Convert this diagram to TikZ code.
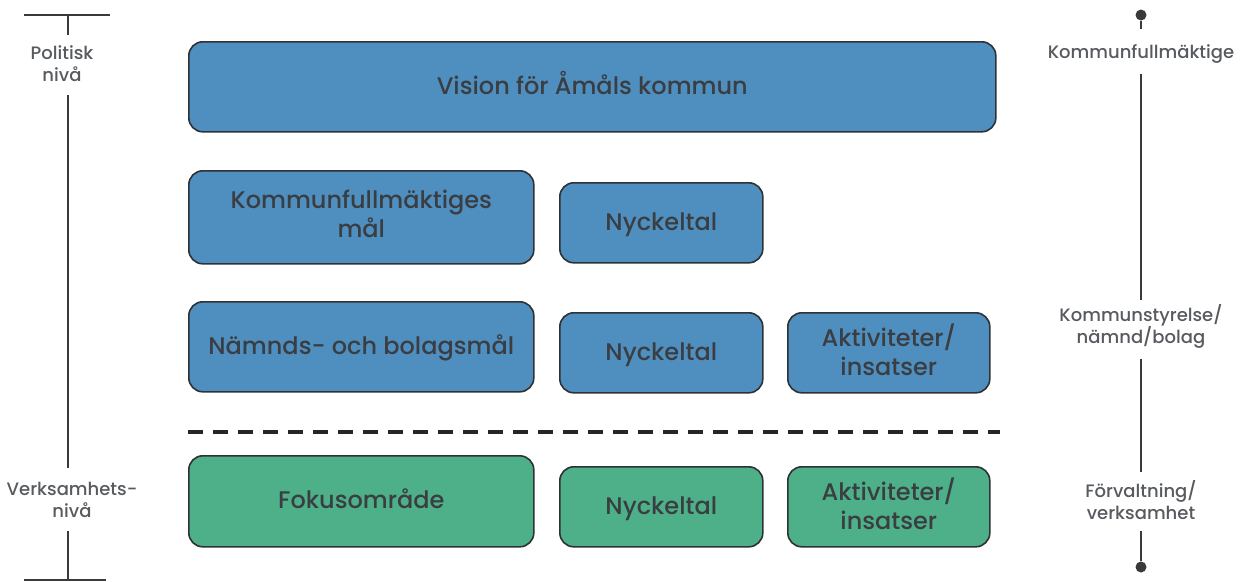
\documentclass[tikz,border=0pt]{standalone}
\usepackage{fontspec}
\setmainfont{Poppins}[UprightFont={* Medium}]
\definecolor{boxblue}{HTML}{4F8FBF}
\definecolor{boxgreen}{HTML}{4DB088}
\definecolor{txt}{HTML}{3A3D42}
\definecolor{edge}{HTML}{2E3135}
\definecolor{axis}{HTML}{3A3A3A}
\begin{document}
\begin{tikzpicture}[x=1pt,y=-1pt,
  box/.style={draw=edge, line width=1.6pt, rounded corners=14pt, anchor=north west, inner sep=0pt},
  boxtext/.style={text=txt, font=\fontsize{24}{29}\selectfont, align=center, inner sep=0pt, yshift=1pt, text depth=0pt},
  one/.style={text height=16.7pt},
  two/.style={yshift=2.5pt},
  blue/.style={box, fill=boxblue},
  green/.style={box, fill=boxgreen},
  side/.style={text=txt!85, font=\fontsize{18}{22}\selectfont, align=center, inner sep=2pt},
  axisline/.style={draw=axis, line width=1.6pt},
  dot/.style={circle, fill=axis, inner sep=0pt, minimum size=11pt}]
\useasboundingbox (0,0) rectangle (1246,581);
% boxes
\node[blue, minimum width=807pt, minimum height=90pt, label={[boxtext,one]center:Vision för Åmåls kommun}] (vision) at (188,41) {};
\node[blue, minimum width=345pt, minimum height=93pt, label={[boxtext,two]center:Kommunfullmäktiges\\mål}] (kfm) at (188,170) {};
\node[blue, minimum width=203pt, minimum height=80pt, label={[boxtext,one]center:Nyckeltal}] (nyk1) at (559,182) {};
\node[blue, minimum width=345pt, minimum height=90pt, label={[boxtext,one]center:Nämnds- och bolagsmål}] (nbm) at (188,301) {};
\node[blue, minimum width=203pt, minimum height=80pt, label={[boxtext,one]center:Nyckeltal}] (nyk2) at (559,312) {};
\node[blue, minimum width=202pt, minimum height=80pt, label={[boxtext,two]center:Aktiviteter/\\insatser}] (akt1) at (787,312) {};
\node[green, minimum width=345pt, minimum height=91pt, label={[boxtext,one]center:Fokusområde}] (fok) at (188,455) {};
\node[green, minimum width=203pt, minimum height=80pt, label={[boxtext,one]center:Nyckeltal}] (nyk3) at (559,466) {};
\node[green, minimum width=202pt, minimum height=80pt, label={[boxtext,two]center:Aktiviteter/\\insatser}] (akt2) at (787,466) {};
% dashed separator
\coordinate (dl) at (188,432);
\coordinate (dr) at (1000,432);
\draw[line width=3.5pt, dash pattern=on 15pt off 10pt, draw=black!85] (dl) -- (dr);
% left axis
\coordinate (ltl) at (24,15);
\coordinate (ltr) at (110,15);
\coordinate (lt) at (68,15);
\coordinate (lbl) at (24,580);
\coordinate (lbr) at (106,580);
\coordinate (lb) at (68,580);
\coordinate (lm1) at (68,95);
\coordinate (lm2) at (68,468);
\node[side] (pol) at (62,64) {Politisk\\nivå};
\node[side] (verk) at (72,500) {Verksamhets-\\nivå};
\draw[axisline] (ltl) -- (ltr);
\draw[axisline] (lbl) -- (lbr);
\draw[axisline] (lt) -- ([yshift=9pt]pol.north -| lt);
\draw[axisline] (lm1) -- (lm2);
\draw[axisline] ([yshift=-11pt]verk.south -| lb) -- (lb);
% right axis
\node[dot] (dtop) at (1141,15) {};
\node[dot] (dbot) at (1141,567) {};
\node[side] (kf) at (1141,54) {Kommunfullmäktige};
\node[side] (ks) at (1141,326) {Kommunstyrelse/\\nämnd/bolag};
\node[side] (fv) at (1141,500) {Förvaltning/\\verksamhet};
\draw[axisline] (dtop) -- ([yshift=13pt]kf.north);
\draw[axisline] ([yshift=-8pt]kf.south) -- ([yshift=2pt]ks.north);
\draw[axisline] ([yshift=-9pt]ks.south) -- ([yshift=6pt]fv.north);
\draw[axisline] ([yshift=-9pt]fv.south) -- (dbot);
\end{tikzpicture}
\end{document}
